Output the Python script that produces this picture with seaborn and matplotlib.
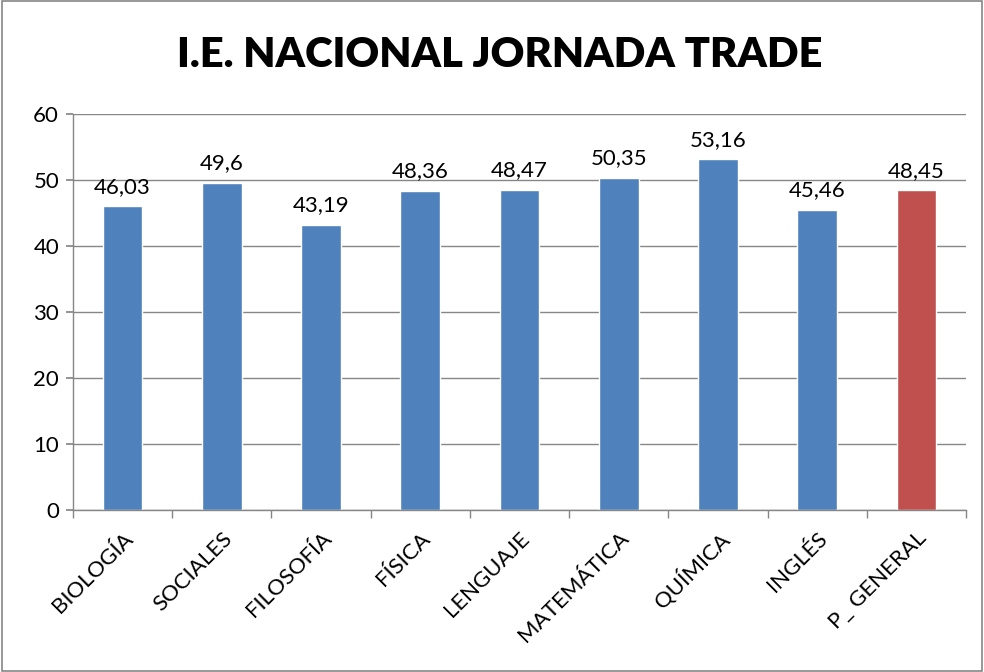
import matplotlib
matplotlib.use("Agg")
import matplotlib.pyplot as plt
import seaborn as sns
import pandas as pd
from matplotlib.patches import Rectangle

categories = ["BIOLOGÍA", "SOCIALES", "FILOSOFÍA", "FÍSICA", "LENGUAJE",
              "MATEMÁTICA", "QUÍMICA", "INGLÉS", "P_ GENERAL"]
values = [46.03, 49.6, 43.19, 48.36, 48.47, 50.35, 53.16, 45.46, 48.45]
value_labels = ["46,03", "49,6", "43,19", "48,36", "48,47", "50,35", "53,16", "45,46", "48,45"]
groups = ["area"] * 8 + ["general"]
title = "I.E. NACIONAL JORNADA TRADE"

sns.set_theme(style="white")
plt.rcParams['font.family'] = ['Lato', 'DejaVu Sans']
plt.rcParams['text.color'] = 'black'
plt.rcParams['xtick.color'] = 'black'
plt.rcParams['ytick.color'] = 'black'

df = pd.DataFrame({"cat": categories, "val": values, "grp": groups})

fig = plt.figure(figsize=(9.84, 6.72), dpi=100)
ax = fig.add_axes([0.0742, 0.241, 0.9075, 0.589])

sns.barplot(data=df, x="cat", y="val", hue="grp",
            palette={"area": "#4F81BD", "general": "#C0504D"},
            dodge=False, width=0.4, legend=False, ax=ax, saturation=1)

ax.set_ylim(0, 60)
ax.set_xlim(-0.5, len(categories) - 0.5)
ax.set_yticks(range(0, 61, 10))
ax.yaxis.grid(True, color="#868686", linewidth=1)
ax.set_axisbelow(True)
ax.set_xlabel("")
ax.set_ylabel("")

for s in ["top", "right"]:
    ax.spines[s].set_visible(False)
for s in ["left", "bottom"]:
    ax.spines[s].set_color("#868686")
    ax.spines[s].set_linewidth(1)

ax.tick_params(axis="y", which="both", direction="out", length=5, color="#868686",
               labelcolor="black", labelsize=16, pad=5, left=True)
ax.set_xticks(range(len(categories)))
ax.set_xticklabels(categories, rotation=45, ha="right", rotation_mode="anchor", fontsize=16)
ax.tick_params(axis="x", which="major", length=0, pad=13, labelcolor="black")
ax.set_xticks([i - 0.5 for i in range(len(categories) + 1)], minor=True)
ax.tick_params(axis="x", which="minor", direction="out", length=6, color="#868686", bottom=True)

for i, (v, lab) in enumerate(zip(values, value_labels)):
    ax.annotate(lab, (i, v), xytext=(0, 7), textcoords="offset points",
                ha="center", va="bottom", fontsize=16, color="black")

fig.text(0.508, 0.918, title, ha="center", va="center", fontsize=30,
         fontweight="heavy", color="black")

fig.patches.append(Rectangle((0.002, 0.002), 0.996, 0.996, transform=fig.transFigure,
                             fill=False, edgecolor="#868686", linewidth=1.2))

fig.savefig("out.png", dpi=100)
